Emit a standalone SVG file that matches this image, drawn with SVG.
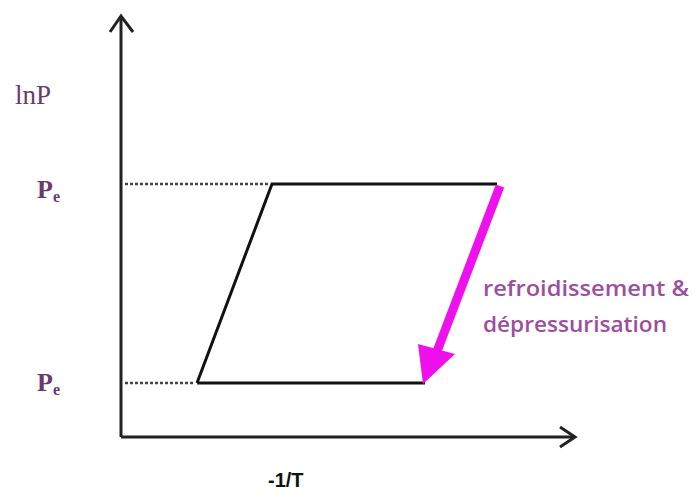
<svg xmlns="http://www.w3.org/2000/svg" width="697" height="498" viewBox="0 0 697 498">
<style>
.axis{stroke:#222;stroke-width:3;fill:none}
.dot{stroke:#444;stroke-width:2.5;stroke-dasharray:3,2;fill:none}
.cyc{stroke:#111;stroke-width:3;fill:none;stroke-linejoin:miter}
.lab{font-family:"Liberation Serif",serif;fill:#6b3a6e}
.pl{font-family:"Open Sans","Liberation Sans",sans-serif;fill:#9b4f9e;font-size:21px;font-weight:600}
</style>
<rect width="697" height="498" fill="#fff"/>
<g id="connectors">
<path class="axis" d="M121 437 V16"/>
<path class="axis" d="M110 32 L121 16 L133 32"/>
<path class="axis" d="M121 437 H574"/>
<path class="axis" d="M560 427 L575 437 L560 447"/>
<path class="dot" d="M125 184 H268"/>
<path class="dot" d="M125 383 H195"/>
</g>
<g id="cycle">
<path class="cyc" d="M197 383 L272 184 H497 M197 383 H425"/>
</g>
<g id="arrow">
<path d="M500 186 L436 354" stroke="#ee11ee" stroke-width="9" fill="none"/>
<path d="M418 344 L423 384 L455 354 Z" fill="#ee11ee"/>
</g>
<g id="labels">
<text class="lab" x="15" y="104" font-size="27">lnP</text>
<text class="lab" x="37" y="198" font-size="26" font-weight="bold">P<tspan font-size="16" dy="4">e</tspan></text>
<text class="lab" x="37" y="391" font-size="26" font-weight="bold">P<tspan font-size="16" dy="4">e</tspan></text>
<text class="pl" x="483" y="296" textLength="206" lengthAdjust="spacingAndGlyphs">refroidissement &amp;</text>
<text class="pl" x="483" y="332" textLength="184" lengthAdjust="spacingAndGlyphs">dépressurisation</text>
<text x="268" y="487" font-family="'Liberation Sans',sans-serif" font-weight="bold" font-size="20" fill="#111">-1/T</text>
</g>
</svg>
